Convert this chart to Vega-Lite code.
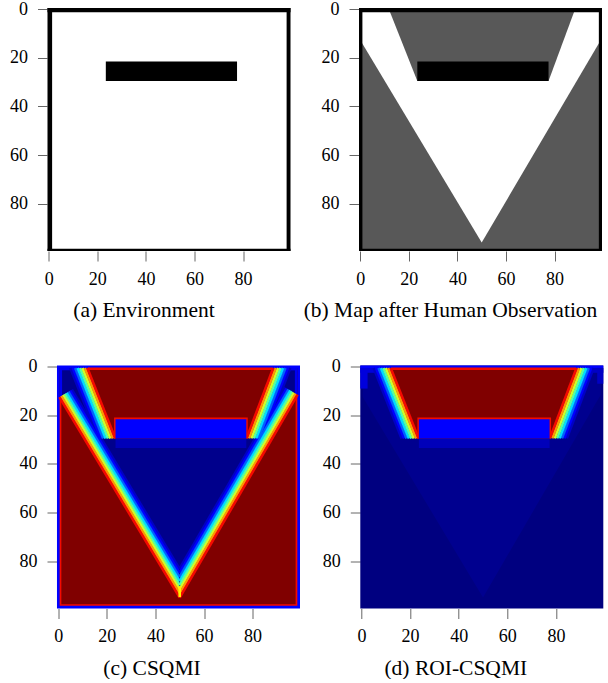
{
"$schema": "https://vega.github.io/schema/vega-lite/v6.json",
"padding": {"left": 9.5, "top": 0, "right": 0, "bottom": 0},
"background": "white",
"datasets": {
"rects": [
{"p":"a","z":1,"x":-0.5,"x2":99.5,"y":-0.5,"y2":99.5,"occ":0},
{"p":"a","z":1,"x":-0.5,"x2":99.5,"y":-0.5,"y2":1.2,"occ":1},
{"p":"a","z":1,"x":-0.5,"x2":1.4,"y":-0.5,"y2":99.5,"occ":1},
{"p":"a","z":1,"x":97.9,"x2":99.5,"y":-0.5,"y2":99.5,"occ":1},
{"p":"a","z":1,"x":-0.5,"x2":99.5,"y":98.6,"y2":99.5,"occ":1},
{"p":"a","z":1,"x":23.5,"x2":77.5,"y":21.5,"y2":29.5,"occ":1},
{"p":"b","z":1,"x":-0.5,"x2":99.5,"y":-0.5,"y2":99.5,"occ":0.625},
{"p":"b","z":2,"x":-0.5,"x2":99.5,"y":-0.5,"y2":1.3,"occ":1},
{"p":"b","z":2,"x":-0.5,"x2":0.9,"y":-0.5,"y2":99.5,"occ":1},
{"p":"b","z":2,"x":98.2,"x2":99.5,"y":-0.5,"y2":99.5,"occ":1},
{"p":"b","z":2,"x":-0.5,"x2":99.5,"y":98.6,"y2":99.5,"occ":1},
{"p":"b","z":2,"x":23.5,"x2":77.5,"y":21.5,"y2":29.5,"occ":1},
{"p":"c","z":1,"x":-0.5,"x2":99.5,"y":-0.5,"y2":99.5,"v":0.11},
{"p":"c","z":1,"x":0.6,"x2":98.4,"y":0.6,"y2":98.4,"v":0.9},
{"p":"c","z":1,"x":1.3,"x2":97.7,"y":1.3,"y2":97.7,"v":1.0},
{"p":"c","z":2,"x":0.5,"x2":1.6,"y":0.5,"y2":12.5,"v":0.1},
{"p":"c","z":2,"x":0.5,"x2":9,"y":0.5,"y2":1.5,"v":0.1},
{"p":"c","z":2,"x":97.4,"x2":98.5,"y":0.5,"y2":11.5,"v":0.1},
{"p":"c","z":2,"x":91.5,"x2":98.5,"y":0.5,"y2":1.5,"v":0.1},
{"p":"c","z":3,"x":23.0,"x2":78.0,"y":20.9,"y2":29.5,"v":0.9},
{"p":"c","z":3,"x":23.6,"x2":77.4,"y":21.6,"y2":29.5,"v":0.11},
{"p":"c","z":3,"x":23.6,"x2":77.4,"y":29.5,"y2":33.5,"v":0.05},
{"p":"d","z":1,"x":-0.5,"x2":99.5,"y":-0.5,"y2":99.5,"v":0.0},
{"p":"d","z":2,"x":-0.5,"x2":99.5,"y":-0.5,"y2":0.5,"v":0.11},
{"p":"d","z":2,"x":-0.5,"x2":2.5,"y":0.5,"y2":9,"v":0.08},
{"p":"d","z":2,"x":-0.5,"x2":7,"y":0.5,"y2":2.5,"v":0.08},
{"p":"d","z":2,"x":97,"x2":99.5,"y":0.5,"y2":7,"v":0.06},
{"p":"d","z":2,"x":92,"x2":99.5,"y":0.5,"y2":2.5,"v":0.06},
{"p":"d","z":3,"x":23.0,"x2":78.0,"y":20.9,"y2":29.5,"v":0.9},
{"p":"d","z":3,"x":23.6,"x2":77.4,"y":21.6,"y2":29.5,"v":0.11},
{"p":"d","z":3,"x":23.6,"x2":77.4,"y":29.5,"y2":33.5,"v":0.05}
],
"areas": [
{"p":"b","s":"known","y":-0.5,"x":-0.5,"x2":99.5,"occ":0},
{"p":"b","s":"known","y":11.8,"x":-0.5,"x2":99.5,"occ":0},
{"p":"b","s":"known","y":96,"x":50,"x2":50,"occ":0},
{"p":"b","s":"trap","y":-0.5,"x":11.6,"x2":88.6,"occ":0.625},
{"p":"b","s":"trap","y":29.5,"x":23.5,"x2":77.5,"occ":0.625},
{"p":"c","s":"known","y":0.5,"x":0.5,"x2":98.5,"v":0.01},
{"p":"c","s":"known","y":11.5,"x":0.5,"x2":98.5,"v":0.01},
{"p":"c","s":"known","y":12.5,"x":0.5,"x2":97.9,"v":0.01},
{"p":"c","s":"known","y":95,"x":50,"x2":50,"v":0.01},
{"p":"c","s":"trap","y":0.5,"x":12.0,"x2":88.5,"v":1.0},
{"p":"c","s":"trap","y":29.5,"x":23.5,"x2":77.5,"v":1.0},
{"p":"d","s":"known","y":0.5,"x":0.5,"x2":98.5,"v":0.013},
{"p":"d","s":"known","y":11.5,"x":0.5,"x2":98.5,"v":0.013},
{"p":"d","s":"known","y":12.5,"x":0.5,"x2":97.9,"v":0.013},
{"p":"d","s":"known","y":95,"x":50,"x2":50,"v":0.013},
{"p":"d","s":"trap","y":0.5,"x":12.0,"x2":88.5,"v":1.0},
{"p":"d","s":"trap","y":29.5,"x":23.5,"x2":77.5,"v":1.0}
],
"rules": [
{"p":"c","x":5.64,"y":9.42,"x2":50,"y2":83.33,"v":0.06},
{"p":"c","x":93.28,"y":8.46,"x2":50,"y2":82.95,"v":0.06},
{"p":"c","x":5,"y":0.5,"x2":16.5,"y2":29.5,"v":0.06},
{"p":"c","x":95.5,"y":0.5,"x2":84.5,"y2":29.5,"v":0.06},
{"p":"c","x":4.90,"y":9.86,"x2":50,"y2":85.0,"v":0.12},
{"p":"c","x":94.02,"y":8.9,"x2":50,"y2":84.67,"v":0.12},
{"p":"c","x":6,"y":0.5,"x2":17.5,"y2":29.5,"v":0.12},
{"p":"c","x":94.5,"y":0.5,"x2":83.5,"y2":29.5,"v":0.12},
{"p":"c","x":4.17,"y":10.3,"x2":50,"y2":86.67,"v":0.22},
{"p":"c","x":94.77,"y":9.33,"x2":50,"y2":86.39,"v":0.22},
{"p":"c","x":7,"y":0.5,"x2":18.5,"y2":29.5,"v":0.22},
{"p":"c","x":93.5,"y":0.5,"x2":82.5,"y2":29.5,"v":0.22},
{"p":"c","x":3.44,"y":10.74,"x2":50,"y2":88.33,"v":0.34},
{"p":"c","x":95.52,"y":9.76,"x2":50,"y2":88.12,"v":0.34},
{"p":"c","x":8,"y":0.5,"x2":19.5,"y2":29.5,"v":0.34},
{"p":"c","x":92.5,"y":0.5,"x2":81.5,"y2":29.5,"v":0.34},
{"p":"c","x":2.70,"y":11.18,"x2":50,"y2":90.0,"v":0.45},
{"p":"c","x":96.26,"y":10.2,"x2":50,"y2":89.84,"v":0.45},
{"p":"c","x":9,"y":0.5,"x2":20.5,"y2":29.5,"v":0.45},
{"p":"c","x":91.5,"y":0.5,"x2":80.5,"y2":29.5,"v":0.45},
{"p":"c","x":1.97,"y":11.62,"x2":50,"y2":91.67,"v":0.6},
{"p":"c","x":97.01,"y":10.63,"x2":50,"y2":91.56,"v":0.6},
{"p":"c","x":10,"y":0.5,"x2":21.5,"y2":29.5,"v":0.6},
{"p":"c","x":90.5,"y":0.5,"x2":79.5,"y2":29.5,"v":0.6},
{"p":"c","x":1.23,"y":12.06,"x2":50,"y2":93.33,"v":0.75},
{"p":"c","x":97.75,"y":11.07,"x2":50,"y2":93.28,"v":0.75},
{"p":"c","x":11,"y":0.5,"x2":22.5,"y2":29.5,"v":0.75},
{"p":"c","x":89.5,"y":0.5,"x2":78.5,"y2":29.5,"v":0.75},
{"p":"c","x":0.5,"y":12.5,"x2":50,"y2":95.0,"v":0.9},
{"p":"c","x":98.5,"y":11.5,"x2":50,"y2":95.0,"v":0.9},
{"p":"c","x":12,"y":0.5,"x2":23.5,"y2":29.5,"v":0.9},
{"p":"c","x":88.5,"y":0.5,"x2":77.5,"y2":29.5,"v":0.9},
{"p":"c","x":12.3,"y":0.85,"x2":88.2,"y2":0.85,"v":0.9},
{"p":"c","x":50,"y":90.3,"x2":50,"y2":94.8,"v":0.66},
{"p":"d","x":5,"y":0.5,"x2":16.5,"y2":29.5,"v":0.06},
{"p":"d","x":95.5,"y":0.5,"x2":84.5,"y2":29.5,"v":0.06},
{"p":"d","x":6,"y":0.5,"x2":17.5,"y2":29.5,"v":0.12},
{"p":"d","x":94.5,"y":0.5,"x2":83.5,"y2":29.5,"v":0.12},
{"p":"d","x":7,"y":0.5,"x2":18.5,"y2":29.5,"v":0.22},
{"p":"d","x":93.5,"y":0.5,"x2":82.5,"y2":29.5,"v":0.22},
{"p":"d","x":8,"y":0.5,"x2":19.5,"y2":29.5,"v":0.34},
{"p":"d","x":92.5,"y":0.5,"x2":81.5,"y2":29.5,"v":0.34},
{"p":"d","x":9,"y":0.5,"x2":20.5,"y2":29.5,"v":0.45},
{"p":"d","x":91.5,"y":0.5,"x2":80.5,"y2":29.5,"v":0.45},
{"p":"d","x":10,"y":0.5,"x2":21.5,"y2":29.5,"v":0.6},
{"p":"d","x":90.5,"y":0.5,"x2":79.5,"y2":29.5,"v":0.6},
{"p":"d","x":11,"y":0.5,"x2":22.5,"y2":29.5,"v":0.75},
{"p":"d","x":89.5,"y":0.5,"x2":78.5,"y2":29.5,"v":0.75},
{"p":"d","x":12,"y":0.5,"x2":23.5,"y2":29.5,"v":0.9},
{"p":"d","x":88.5,"y":0.5,"x2":77.5,"y2":29.5,"v":0.9},
{"p":"d","x":12.3,"y":0.85,"x2":88.2,"y2":0.85,"v":0.9}
]
},
"spacing": 35.5,
"resolve": {"scale": {"color": "independent", "x": "independent", "y": "independent"}},
"vconcat": [
{
"spacing": 12.5,
"resolve": {"scale": {"color": "independent", "x": "independent", "y": "independent"}},
"hconcat": [
{
"width": 243, "height": 243,
"title": {"text": "(a) Environment", "font": "Liberation Serif", "frame": "group", "dx": -25},
"encoding": {
"x": {"field": "x", "type": "quantitative", "scale": {"domain": [-0.5, 99.5], "nice": false, "zero": false}, "axis": {"values": [0, 20, 40, 60, 80], "title": null, "labelFont": "Liberation Serif"}},
"x2": {"field": "x2"},
"y": {"field": "y", "type": "quantitative", "scale": {"domain": [-0.5, 99.5], "nice": false, "zero": false, "reverse": true}, "axis": {"values": [0, 20, 40, 60, 80], "title": null, "labelFont": "Liberation Serif"}},
"color": {"field": "occ", "type": "quantitative", "scale": {"domain": [0, 1], "range": ["#ffffff", "#000000"]}, "legend": null}
},
"layer": [
{"data": {"name": "rects"}, "transform": [{"filter": "datum.p=='a'"}], "mark": "rect", "encoding": {"y2": {"field": "y2"}}}
]
},
{
"width": 243, "height": 243,
"title": {"text": "(b) Map after Human Observation", "font": "Liberation Serif", "frame": "group", "dx": -30},
"encoding": {
"x": {"field": "x", "type": "quantitative", "scale": {"domain": [-0.5, 99.5], "nice": false, "zero": false}, "axis": {"values": [0, 20, 40, 60, 80], "title": null, "labelFont": "Liberation Serif"}},
"x2": {"field": "x2"},
"y": {"field": "y", "type": "quantitative", "scale": {"domain": [-0.5, 99.5], "nice": false, "zero": false, "reverse": true}, "axis": {"values": [0, 20, 40, 60, 80], "title": null, "labelFont": "Liberation Serif"}},
"color": {"field": "occ", "type": "quantitative", "scale": {"domain": [0, 1], "range": ["#ffffff", "#000000"]}, "legend": null}
},
"layer": [
{"data": {"name": "rects"}, "transform": [{"filter": "datum.p=='b' && datum.z==1"}], "mark": "rect", "encoding": {"y2": {"field": "y2"}}},
{"data": {"name": "areas"}, "transform": [{"filter": "datum.p=='b' && datum.s=='known'"}], "mark": {"type": "area", "orient": "horizontal"}},
{"data": {"name": "areas"}, "transform": [{"filter": "datum.p=='b' && datum.s=='trap'"}], "mark": {"type": "area", "orient": "horizontal"}},
{"data": {"name": "rects"}, "transform": [{"filter": "datum.p=='b' && datum.z==2"}], "mark": "rect", "encoding": {"y2": {"field": "y2"}}}
]
}
]
},
{
"spacing": 21.8,
"resolve": {"scale": {"color": "independent", "x": "independent", "y": "independent"}},
"hconcat": [
{
"width": 252.5, "height": 243,
"title": {"text": "(c) CSQMI", "font": "Liberation Serif", "frame": "group", "dx": -21.75},
"encoding": {
"x": {"field": "x", "type": "quantitative", "scale": {"domain": [-4.4, 99.5], "nice": false, "zero": false}, "axis": {"values": [0, 20, 40, 60, 80], "title": null, "labelFont": "Liberation Serif"}},
"x2": {"field": "x2"},
"y": {"field": "y", "type": "quantitative", "scale": {"domain": [-0.5, 99.5], "nice": false, "zero": false, "reverse": true}, "axis": {"values": [0, 20, 40, 60, 80], "title": null, "offset": -9.5, "labelFont": "Liberation Serif"}},
"color": {"field": "v", "type": "quantitative", "scale": {"domain": [0, 0.11, 0.125, 0.34, 0.375, 0.64, 0.66, 0.89, 0.91, 1], "range": ["#000080", "#0000ff", "#0000ff", "#00dbff", "#14ffe2", "#eeff08", "#ffec00", "#ff1300", "#e80000", "#800000"], "interpolate": "rgb"}, "legend": null}
},
"layer": [
{"data": {"name": "rects"}, "transform": [{"filter": "datum.p=='c' && datum.z==1"}], "mark": "rect", "encoding": {"y2": {"field": "y2"}}},
{"data": {"name": "areas"}, "transform": [{"filter": "datum.p=='c' && datum.s=='known'"}], "mark": {"type": "area", "orient": "horizontal"}},
{"data": {"name": "rects"}, "transform": [{"filter": "datum.p=='c' && datum.z==2"}], "mark": "rect", "encoding": {"y2": {"field": "y2"}}},
{"data": {"name": "areas"}, "transform": [{"filter": "datum.p=='c' && datum.s=='trap'"}], "mark": {"type": "area", "orient": "horizontal"}},
{"data": {"name": "rules"}, "transform": [{"filter": "datum.p=='c'"}], "mark": {"type": "rule", "strokeWidth": 2.6, "strokeCap": "butt"}, "encoding": {"y2": {"field": "y2"}}},
{"data": {"name": "rects"}, "transform": [{"filter": "datum.p=='c' && datum.z==3"}], "mark": "rect", "encoding": {"y2": {"field": "y2"}}}
]
},
{
"width": 243, "height": 243,
"title": {"text": "(d) ROI-CSQMI", "font": "Liberation Serif", "frame": "group", "dx": -26},
"encoding": {
"x": {"field": "x", "type": "quantitative", "scale": {"domain": [-0.5, 99.5], "nice": false, "zero": false}, "axis": {"values": [0, 20, 40, 60, 80], "title": null, "labelFont": "Liberation Serif"}},
"x2": {"field": "x2"},
"y": {"field": "y", "type": "quantitative", "scale": {"domain": [-0.5, 99.5], "nice": false, "zero": false, "reverse": true}, "axis": {"values": [0, 20, 40, 60, 80], "title": null, "labelFont": "Liberation Serif"}},
"color": {"field": "v", "type": "quantitative", "scale": {"domain": [0, 0.11, 0.125, 0.34, 0.375, 0.64, 0.66, 0.89, 0.91, 1], "range": ["#000080", "#0000ff", "#0000ff", "#00dbff", "#14ffe2", "#eeff08", "#ffec00", "#ff1300", "#e80000", "#800000"], "interpolate": "rgb"}, "legend": null}
},
"layer": [
{"data": {"name": "rects"}, "transform": [{"filter": "datum.p=='d' && datum.z==1"}], "mark": "rect", "encoding": {"y2": {"field": "y2"}}},
{"data": {"name": "areas"}, "transform": [{"filter": "datum.p=='d' && datum.s=='known'"}], "mark": {"type": "area", "orient": "horizontal"}},
{"data": {"name": "rects"}, "transform": [{"filter": "datum.p=='d' && datum.z==2"}], "mark": "rect", "encoding": {"y2": {"field": "y2"}}},
{"data": {"name": "areas"}, "transform": [{"filter": "datum.p=='d' && datum.s=='trap'"}], "mark": {"type": "area", "orient": "horizontal"}},
{"data": {"name": "rules"}, "transform": [{"filter": "datum.p=='d'"}], "mark": {"type": "rule", "strokeWidth": 2.6, "strokeCap": "butt"}, "encoding": {"y2": {"field": "y2"}}},
{"data": {"name": "rects"}, "transform": [{"filter": "datum.p=='d' && datum.z==3"}], "mark": "rect", "encoding": {"y2": {"field": "y2"}}}
]
}
]
}
],
"config": {
"view": {"stroke": null},
"axis": {"labelFontSize": 18, "labelColor": "#000000", "tickColor": "#666666", "tickSize": 10, "tickWidth": 1, "domain": false, "grid": false, "labelPadding": 9, "labelFlush": false, "labelOverlap": false},
"axisY": {"labelPadding": 10},
"title": {"fontSize": 21.5, "fontWeight": "normal", "color": "#000000", "orient": "bottom", "anchor": "middle", "offset": 12}
}
}
